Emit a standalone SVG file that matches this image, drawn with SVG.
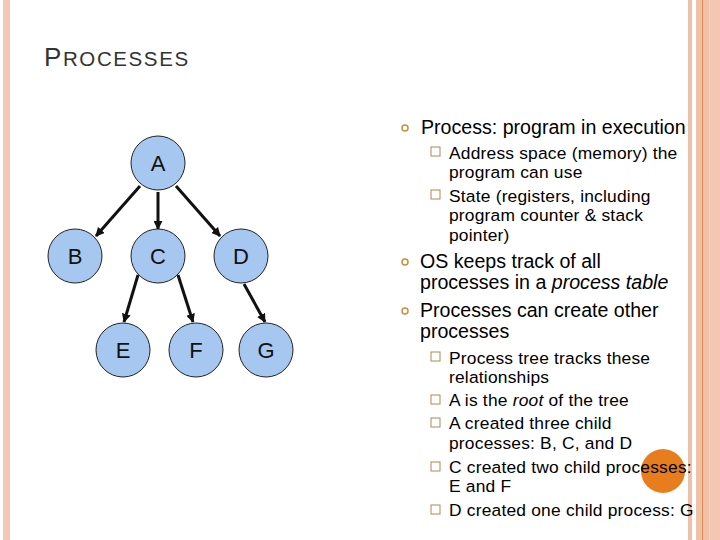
<svg xmlns="http://www.w3.org/2000/svg" width="720" height="540" viewBox="0 0 720 540">
<style>
.n{fill:#a6c8f0;stroke:#222;stroke-width:1}
.nl{font-family:"Liberation Sans",Arial,sans-serif;font-size:22px;fill:#111;text-anchor:middle}
.e{stroke:#111;stroke-width:3;fill:none;marker-end:url(#ah)}
.m{font-family:"Liberation Sans",Arial,sans-serif;font-size:19.6px;fill:#000}
.s{font-family:"Liberation Sans",Arial,sans-serif;font-size:17.4px;fill:#000;letter-spacing:0.2px}
.b{fill:none;stroke:#c8903c;stroke-width:1.5}
.q{fill:none;stroke:#b08850;stroke-width:1}
</style>
<defs>
<marker id="ah" viewBox="0 0 10 10" refX="9" refY="5" markerWidth="3" markerHeight="3" orient="auto"><path d="M0,0L10,5L0,10z" fill="#111"/></marker>
</defs>
<rect width="720" height="540" fill="#fff"/>
<rect x="3" y="0" width="7" height="540" fill="#f4c8b4"/>
<rect x="688" y="0" width="4" height="540" fill="#f0c0a8"/>
<rect x="696" y="0" width="6" height="540" fill="#f0c0a8"/>
<rect x="702" y="0" width="1.5" height="540" fill="#e08a50"/>
<rect x="703.5" y="0" width="6" height="540" fill="#f0c0a8"/>
<rect x="709.5" y="0" width="10.5" height="540" fill="#f6c6b4"/>
<text x="44" y="66" font-family="Liberation Sans,Arial,sans-serif" fill="#333" letter-spacing="1.6"><tspan font-size="26">P</tspan><tspan font-size="20.5">ROCESSES</tspan></text>
<g id="connectors">
<line class="e" x1="140" y1="186" x2="96" y2="236"/>
<line class="e" x1="158" y1="192" x2="158" y2="229"/>
<line class="e" x1="176" y1="186" x2="220" y2="236"/>
<line class="e" x1="138" y1="275" x2="124" y2="322"/>
<line class="e" x1="178" y1="275" x2="193" y2="322"/>
<line class="e" x1="244" y1="284" x2="265" y2="322"/>
</g>
<g id="A"><circle class="n" cx="158" cy="163" r="27"/><text class="nl" x="158" y="171">A</text></g>
<g id="B"><circle class="n" cx="75" cy="256" r="27"/><text class="nl" x="75" y="264">B</text></g>
<g id="C"><circle class="n" cx="158" cy="256" r="27"/><text class="nl" x="158" y="264">C</text></g>
<g id="D"><circle class="n" cx="241" cy="256" r="27"/><text class="nl" x="241" y="264">D</text></g>
<g id="E"><circle class="n" cx="123" cy="350" r="27"/><text class="nl" x="123" y="358">E</text></g>
<g id="F"><circle class="n" cx="196" cy="350" r="27"/><text class="nl" x="196" y="358">F</text></g>
<g id="G"><circle class="n" cx="266" cy="350" r="27"/><text class="nl" x="266" y="358">G</text></g>
<circle cx="663" cy="471" r="22" fill="#e87d1e"/>
<g>
<circle class="b" cx="405" cy="128" r="3"/>
<circle class="b" cx="405" cy="262" r="3"/>
<circle class="b" cx="405" cy="311" r="3"/>
<rect class="q" x="431" y="147" width="9" height="9"/>
<rect class="q" x="431" y="190" width="9" height="9"/>
<rect class="q" x="431" y="352" width="9" height="9"/>
<rect class="q" x="431" y="395" width="9" height="9"/>
<rect class="q" x="431" y="418" width="9" height="9"/>
<rect class="q" x="431" y="462" width="9" height="9"/>
<rect class="q" x="431" y="505" width="9" height="9"/>
<text class="m" x="421" y="134">Process: program in execution</text>
<text class="s" x="449" y="159">Address space (memory) the</text>
<text class="s" x="449" y="178">program can use</text>
<text class="s" x="449" y="202">State (registers, including</text>
<text class="s" x="449" y="221">program counter &amp; stack</text>
<text class="s" x="449" y="241">pointer)</text>
<text class="m" x="420" y="268">OS keeps track of all</text>
<text class="m" x="420" y="289">processes in a <tspan font-style="italic">process table</tspan></text>
<text class="m" x="420" y="317">Processes can create other</text>
<text class="m" x="420" y="338">processes</text>
<text class="s" x="449" y="364">Process tree tracks these</text>
<text class="s" x="449" y="383">relationships</text>
<text class="s" x="449" y="406">A is the <tspan font-style="italic">root</tspan> of the tree</text>
<text class="s" x="449" y="429">A created three child</text>
<text class="s" x="449" y="449">processes: B, C, and D</text>
<text class="s" x="449" y="473">C created two child processes:</text>
<text class="s" x="449" y="492">E and F</text>
<text class="s" x="449" y="516">D created one child process: G</text>
</g>
</svg>
